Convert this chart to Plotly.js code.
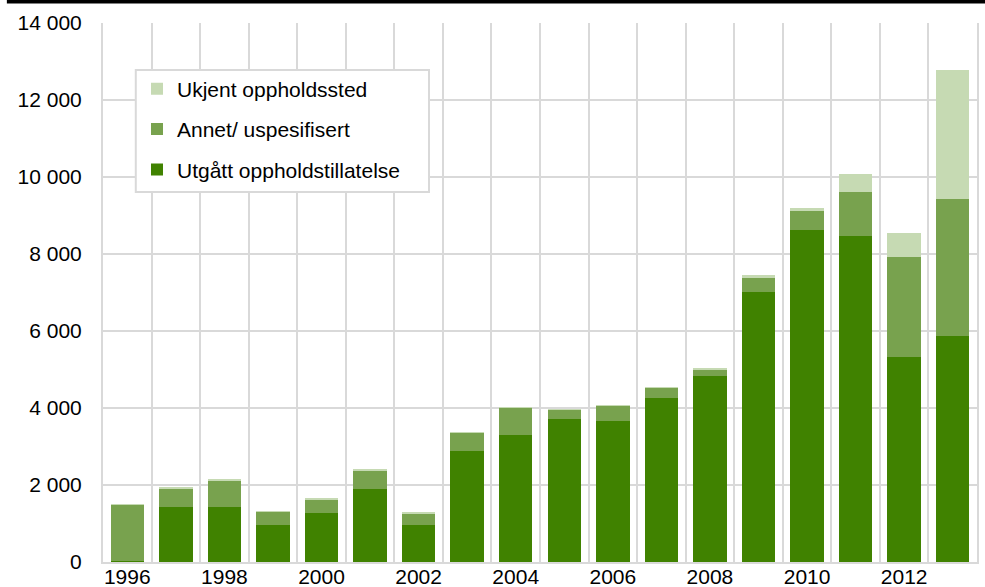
<!DOCTYPE html>
<html>
<head>
<meta charset="utf-8">
<script src="https://cdn.plot.ly/plotly-3.0.1.min.js"></script>
<style>
  html, body { margin: 0; padding: 0; background: #ffffff; }
  #chart { width: 985px; height: 587px; }
</style>
</head>
<body>
<div id="chart"></div>
<script>
// Years on the x axis
const years = [1996, 1997, 1998, 1999, 2000, 2001, 2002, 2003, 2004,
               2005, 2006, 2007, 2008, 2009, 2010, 2011, 2012, 2013];
// Labelled years (every second year)
const yearLabels = [1996, 1998, 2000, 2002, 2004, 2006, 2008, 2010, 2012];

// Series names
const nameExpired = "Utgått oppholdstillatelse";
const nameOther = "Annet/ uspesifisert";
const nameUnknown = "Ukjent oppholdssted";

// Values per year, stacked bottom to top
const expired = [30, 1440, 1440, 960, 1280, 1900, 960, 2880, 3300,
                 3710, 3670, 4270, 4830, 7020, 8615, 8460, 5330, 5880];
const other   = [1450, 460, 675, 345, 330, 465, 285, 465, 705,
                 235, 375, 245, 155, 365, 510, 1160, 2600, 3550];
const unknown = [30, 40, 35, 30, 40, 40, 45, 40, 30,
                 25, 40, 40, 50, 60, 70, 460, 605, 3350];

const font = "Liberation Sans, Arial, sans-serif";
const grid = "#d9d9d9";

function series(name, values, color, rank) {
  return {
    type: "bar",
    name: name,
    x: years,
    y: values,
    legendgroup: "g" + rank,
    legendrank: rank,
    marker: { color: color, line: { width: 0 } },
    hoverinfo: "x+y+name"
  };
}

const data = [
  series(nameExpired, expired, "#408200", 3),
  series(nameOther, other, "#78a24e", 2),
  series(nameUnknown, unknown, "#c6dab3", 1)
];

const layout = {
  width: 985,
  height: 587,
  margin: { l: 103, r: 8, t: 23, b: 25 },
  paper_bgcolor: "#ffffff",
  plot_bgcolor: "#ffffff",
  barmode: "stack",
  bargap: 0.31,
  separators: ", ",
  font: { family: font, size: 21, color: "#000000" },
  showlegend: true,
  legend: {
    x: 0.0389, y: 0.9153, xanchor: "left", yanchor: "top",
    bgcolor: "rgba(0,0,0,0)",
    borderwidth: 0,
    traceorder: "grouped",
    tracegroupgap: 10,
    font: { family: font, size: 21, color: "#000000" }
  },
  xaxis: {
    range: [1995.5, 2013.5],
    tickmode: "array",
    tickvals: yearLabels,
    ticktext: yearLabels.map(String),
    ticks: "",
    ticklabelstandoff: -5,
    showgrid: false,
    zeroline: false,
    showline: true,
    linecolor: grid,
    linewidth: 2,
    tickfont: { family: font, size: 21, color: "#000000" },
    minor: { tick0: 1995.5, dtick: 1, showgrid: true, gridcolor: grid, gridwidth: 2, ticks: "" },
    fixedrange: true
  },
  yaxis: {
    range: [0, 14000],
    dtick: 2000,
    tickformat: ",d",
    ticks: "",
    ticklabelstandoff: 15,
    showgrid: true,
    gridcolor: grid,
    gridwidth: 2,
    zeroline: false,
    showline: true,
    mirror: true,
    linecolor: grid,
    linewidth: 2,
    tickfont: { family: font, size: 21, color: "#000000" },
    fixedrange: true
  },
  shapes: [
    // heavy rule across the top of the figure
    {
      type: "line", xref: "paper", yref: "paper",
      x0: -0.11, x1: 1.01, y0: 1.0395, y1: 1.0395,
      line: { color: "#000000", width: 3.5 }
    },
    // white legend panel with a light grey frame
    {
      type: "rect", xref: "paper", yref: "paper", layer: "above",
      x0: 0.0375, x1: 0.3730, y0: 0.6865, y1: 0.9128,
      fillcolor: "#ffffff",
      line: { color: grid, width: 2 }
    }
  ]
};

Plotly.newPlot("chart", data, layout, { displayModeBar: false, staticPlot: true });
</script>
</body>
</html>
